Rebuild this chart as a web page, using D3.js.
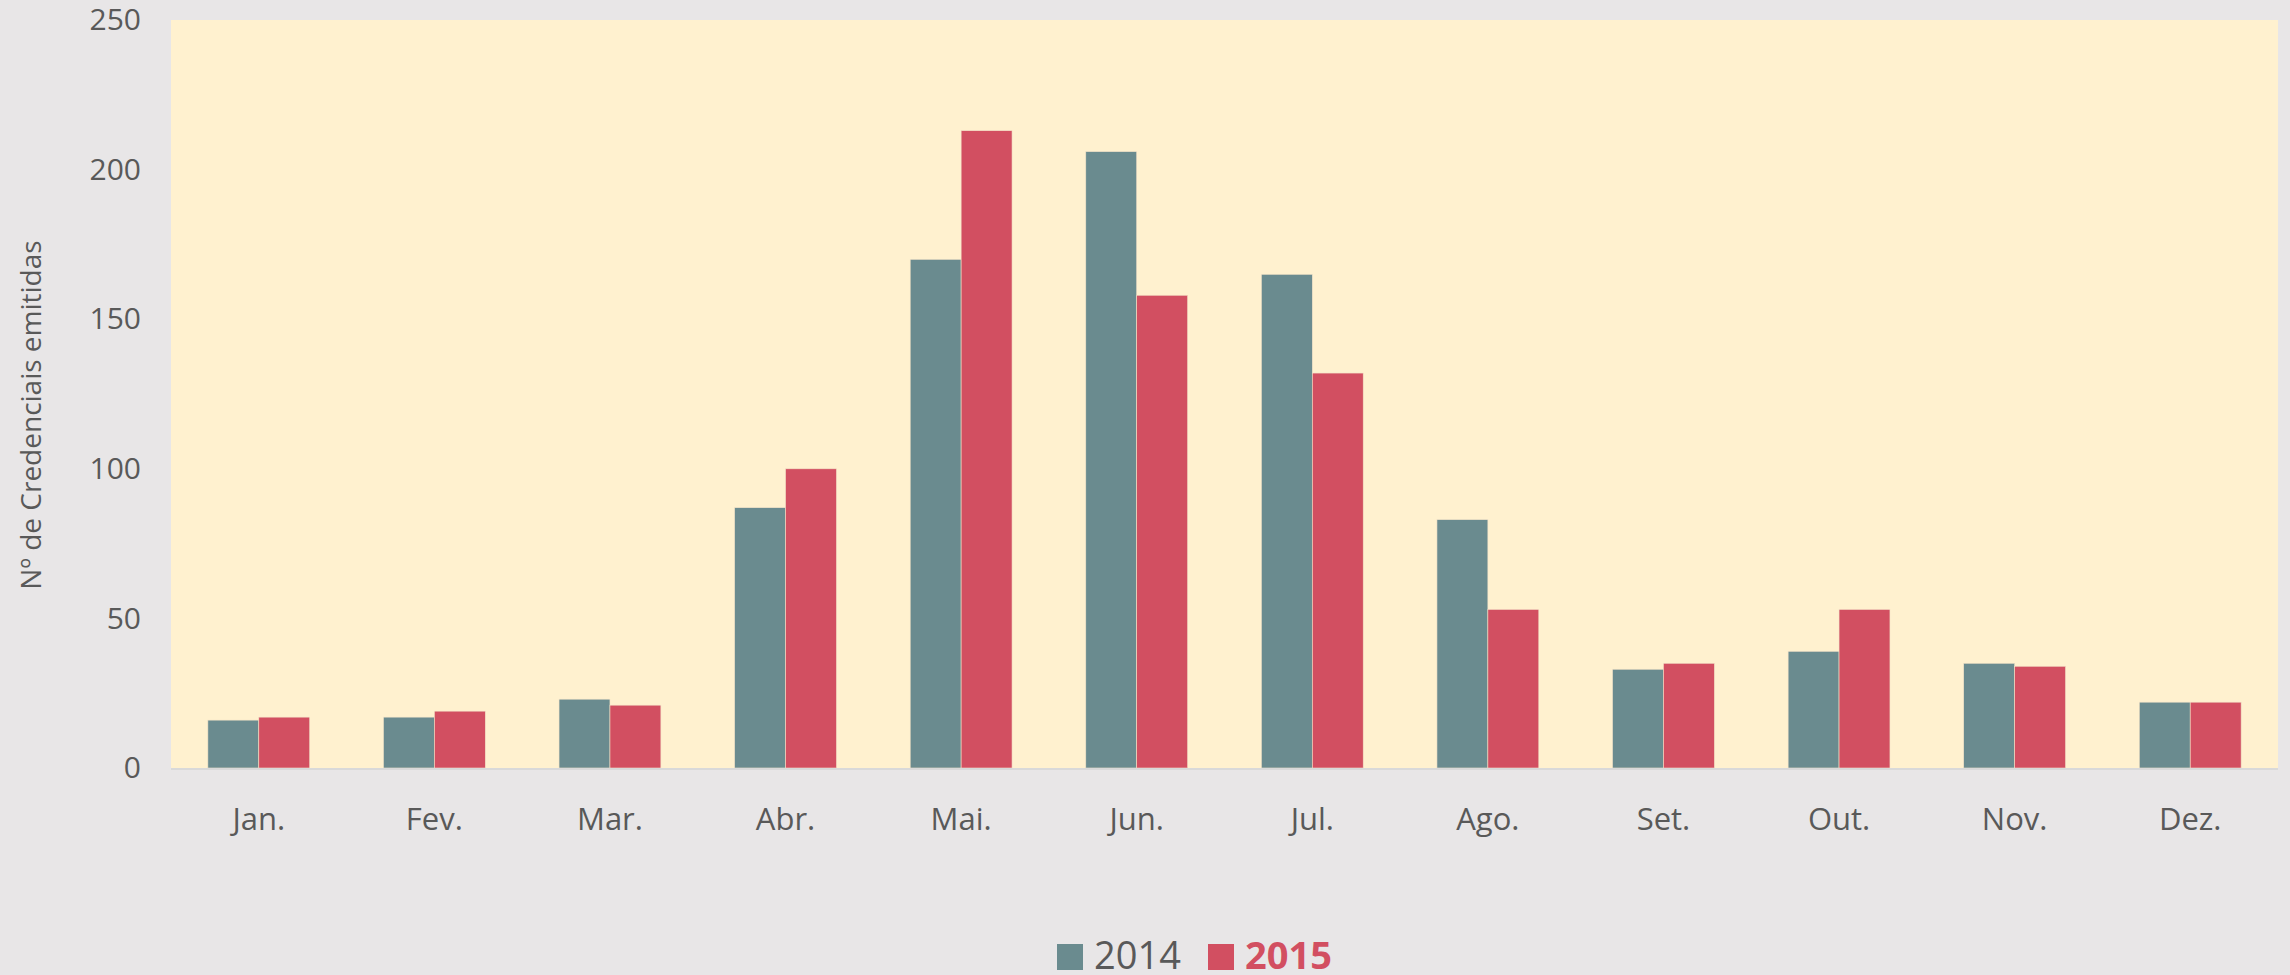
<!DOCTYPE html>
<html>
<head>
<meta charset="utf-8">
<script src="https://cdn.jsdelivr.net/npm/d3@7"></script>
<style>
  body { margin: 0; background: #e8e6e7; }
  text { font-family: "Open Sans", sans-serif; fill: #595959; }
</style>
</head>
<body>
<div id="chart"></div>
<script>
// chart data
var months = ["Jan.", "Fev.", "Mar.", "Abr.", "Mai.", "Jun.", "Jul.", "Ago.", "Set.", "Out.", "Nov.", "Dez."];
var years = ["2014", "2015"];
var values2014 = [16, 17, 23, 87, 170, 206, 165, 83, 33, 39, 35, 22];
var values2015 = [17, 19, 21, 100, 213, 158, 132, 53, 35, 53, 34, 22];
var yTicks = [0, 50, 100, 150, 200, 250];
var colors = {"2014": "#6a8b8f", "2015": "#d24f61"};

var W = 2290, H = 975;
var margin = {top: 20, right: 12, bottom: 207, left: 171},
  width = W - margin.left - margin.right,
  height = H - margin.top - margin.bottom;

var rows = months.map(function(m, i) {
  return {month: m, "2014": values2014[i], "2015": values2015[i]};
});

var svg = d3.select("#chart")
  .append("svg")
    .attr("width", W)
    .attr("height", H);

svg.append("rect")
  .attr("width", W).attr("height", H)
  .attr("fill", "#e8e6e7");

var g = svg.append("g")
  .attr("transform", "translate(" + margin.left + "," + margin.top + ")");

// plot area background
g.append("rect")
  .attr("width", width)
  .attr("height", height)
  .attr("fill", "#fff1cf");

var x = d3.scaleBand()
  .domain(months)
  .range([0, width])
  .paddingInner(0.42)
  .paddingOuter(0.21);

var xSub = d3.scaleBand()
  .domain(years)
  .range([0, x.bandwidth()]);

var y = d3.scaleLinear()
  .domain([0, 250])
  .range([height, 0]);

// bars
var groups = g.selectAll("g.month")
  .data(rows)
  .enter()
  .append("g")
    .attr("class", "month")
    .attr("transform", function(d) { return "translate(" + x(d.month) + ",0)"; });

groups.selectAll("rect")
  .data(function(d) { return years.map(function(k) { return {key: k, value: d[k]}; }); })
  .enter()
  .append("rect")
    .attr("x", function(d) { return xSub(d.key); })
    .attr("y", function(d) { return y(d.value); })
    .attr("width", xSub.bandwidth())
    .attr("height", function(d) { return height - y(d.value); })
    .attr("fill", function(d) { return colors[d.key]; })
    .attr("stroke", "#f3e3c8")
    .attr("stroke-width", 0.6);

// baseline
g.append("line")
  .attr("x1", 0).attr("x2", width)
  .attr("y1", y(0) + 1).attr("y2", y(0) + 1)
  .attr("stroke", "#d9d9d9")
  .attr("stroke-width", 2);

// y axis labels
var yAxis = g.append("g")
  .attr("transform", "translate(-30,0)")
  .call(d3.axisLeft(y).tickValues(yTicks).tickSize(0).tickPadding(0));
yAxis.select(".domain").remove();
yAxis.selectAll("text")
  .attr("font-size", 30)
  .attr("fill", "#595959")
  .style("font-family", "'Open Sans', sans-serif");

// x axis labels
var xAxis = g.append("g")
  .attr("transform", "translate(0," + height + ")")
  .call(d3.axisBottom(x).tickSize(0).tickPadding(40));
xAxis.select(".domain").remove();
xAxis.selectAll("text")
  .attr("font-size", 31)
  .attr("fill", "#595959")
  .style("font-family", "'Open Sans', sans-serif");

// y axis title
svg.append("text")
  .attr("transform", "translate(41,415) rotate(-90)")
  .attr("text-anchor", "middle")
  .attr("font-size", 28)
  .text("Nº de Credenciais emitidas");

// legend
var legend = [
  {key: "2014", x: 1057, bold: false, color: "#595959"},
  {key: "2015", x: 1208, bold: true, color: colors["2015"]}
];
var lg = svg.selectAll("g.legend")
  .data(legend)
  .enter()
  .append("g")
    .attr("class", "legend")
    .attr("transform", function(d) { return "translate(" + d.x + ",944)"; });
lg.append("rect")
  .attr("width", 26).attr("height", 26)
  .attr("fill", function(d) { return colors[d.key]; });
lg.append("text")
  .attr("x", 37)
  .attr("y", 25)
  .attr("font-size", 38)
  .attr("font-weight", function(d) { return d.bold ? "bold" : "normal"; })
  .style("fill", function(d) { return d.color; })
  .text(function(d) { return d.key; });
</script>
</body>
</html>
